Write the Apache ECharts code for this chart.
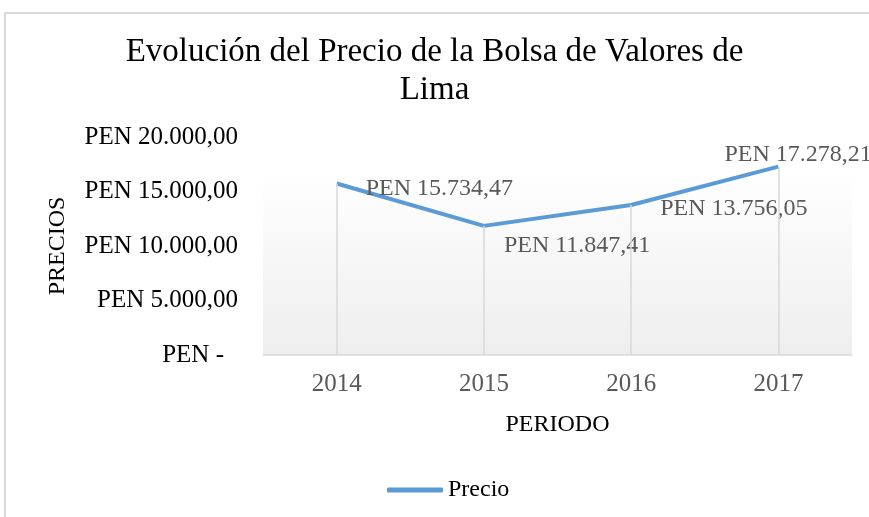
<!DOCTYPE html>
<html>
<head>
<meta charset="utf-8">
<script src="https://cdn.jsdelivr.net/npm/echarts@6/dist/echarts.min.js"></script>
<style>
  html, body { margin: 0; padding: 0; background: #fff; }
  #chart { width: 869px; height: 517px; }
</style>
</head>
<body>
<div id="chart"></div>
<script>
var years = ['2014', '2015', '2016', '2017'];
var precios = [15734.47, 11847.41, 13756.05, 17278.21];
var yTicks = [0, 5000, 10000, 15000, 20000];

var serif = '"Liberation Serif", "Times New Roman", serif';

function pen (v) {
  var parts = v.toFixed(2).split('.');
  var ent = parts[0].replace(/\B(?=(\d{3})+(?!\d))/g, '.');
  return 'PEN ' + ent + ',' + parts[1];
}

// where each data label sits relative to its point
var labelOffsets = [[24, 5], [15, 20], [24, 4], [-59, -12]];

var chart = echarts.init(document.getElementById('chart'));

var option = {
  animation: false,
  title: {
    text: 'Evolución del Precio de la Bolsa de Valores de\nLima',
    left: 'center',
    top: 28,
    textStyle: {
      fontFamily: serif,
      fontSize: 33,
      fontWeight: 'normal',
      color: '#000',
      lineHeight: 38
    }
  },
  graphic: [
    {
      type: 'rect',
      z: -10,
      silent: true,
      shape: { x: 5, y: 13, width: 900, height: 600 },
      style: { fill: 'none', stroke: '#d9d9d9', lineWidth: 2 }
    },
    {
      type: 'rect',
      z: -5,
      silent: true,
      shape: { x: 263, y: 170, width: 589, height: 185 },
      style: {
        fill: new echarts.graphic.LinearGradient(0, 0, 0, 1, [
          { offset: 0, color: '#ffffff' },
          { offset: 1, color: '#eeeeee' }
        ])
      }
    }
  ],
  legend: {
    data: ['Precio'],
    icon: 'roundRect',
    left: 382,
    top: 473,
    itemWidth: 56,
    itemHeight: 5,
    itemStyle: { color: '#5b9bd5' },
    textStyle: { fontFamily: serif, fontSize: 24, color: '#000' }
  },
  grid: {
    left: 263,
    right: 17,
    top: 137,
    bottom: 162
  },
  xAxis: {
    type: 'category',
    data: years,
    boundaryGap: true,
    name: 'PERIODO',
    nameLocation: 'middle',
    nameGap: 58,
    nameTextStyle: { fontFamily: serif, fontSize: 24, color: '#000' },
    axisLine: { lineStyle: { color: '#d9d9d9', width: 1.5 } },
    axisTick: { show: false },
    axisLabel: { fontFamily: serif, fontSize: 25, color: '#595959', margin: 17 },
    splitLine: { show: false }
  },
  yAxis: {
    type: 'value',
    min: yTicks[0],
    max: yTicks[yTicks.length - 1],
    interval: yTicks[1] - yTicks[0],
    name: 'PRECIOS',
    nameLocation: 'middle',
    nameGap: 193,
    nameRotate: 90,
    nameTextStyle: { fontFamily: serif, fontSize: 24, color: '#000' },
    axisLine: { show: false },
    axisTick: { show: false },
    splitLine: { show: false },
    axisLabel: {
      margin: 25,
      fontFamily: serif,
      fontSize: 25,
      color: '#000',
      formatter: function (v) {
        return v === 0 ? '{z|PEN -}' : pen(v);
      },
      rich: {
        z: { fontFamily: serif, fontSize: 25, color: '#000', padding: [0, 14, 0, 0] }
      }
    }
  },
  series: [
    {
      name: 'Precio',
      type: 'line',
      symbol: 'circle',
      symbolSize: 0.1,
      showSymbol: true,
      data: precios,
      lineStyle: { color: '#5b9bd5', width: 4 },
      itemStyle: { color: '#5b9bd5' },
      label: {
        show: true,
        position: 'right',
        distance: 5,
        fontFamily: serif,
        fontSize: 24,
        color: '#595959',
        formatter: function (p) { return pen(p.value); }
      },
      labelLayout: function (params) {
        var o = labelOffsets[params.dataIndex];
        return { dx: o[0], dy: o[1], hideOverlap: false };
      },
      markLine: {
        silent: true,
        symbol: 'none',
        label: { show: false },
        lineStyle: { color: '#d9d9d9', width: 1.5, type: 'solid' },
        data: precios.map(function (v, i) {
          return [{ coord: [i, v] }, { coord: [i, 0] }];
        })
      },
      z: 3
    }
  ]
};

chart.setOption(option);
</script>
</body>
</html>
